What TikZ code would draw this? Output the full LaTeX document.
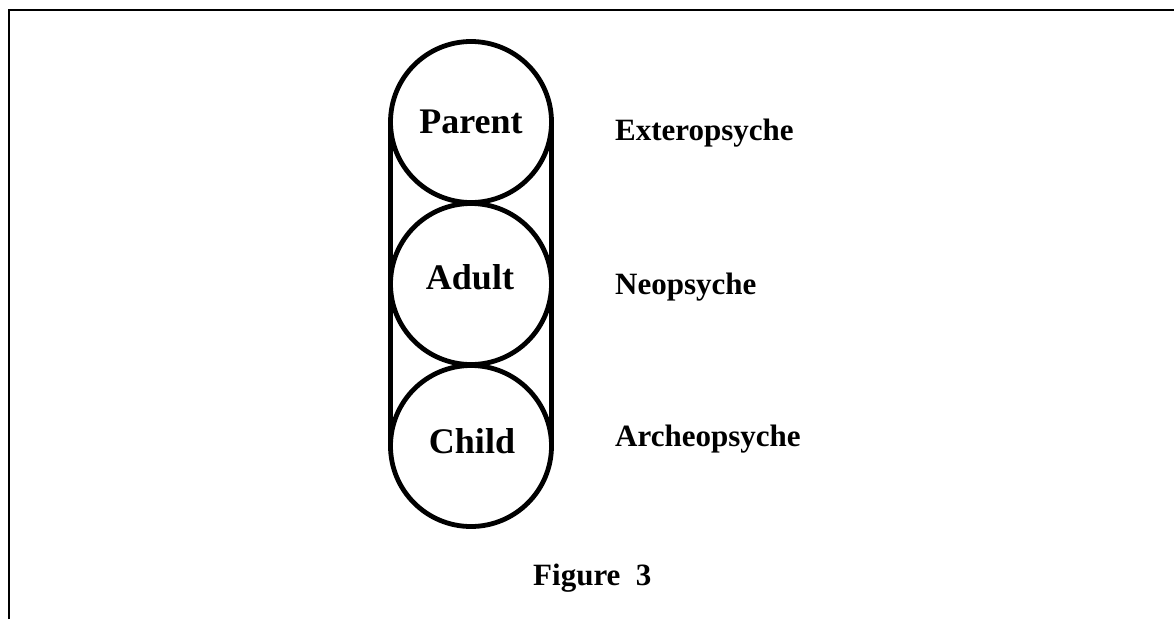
\documentclass[tikz,border=0pt]{standalone}
\usepackage{fontspec}
\setmainfont{Liberation Serif}
\begin{document}
\begin{tikzpicture}[x=1pt,y=-1pt,
  ego/.style={circle,draw,line width=4.8pt,outer sep=0pt,minimum size=161pt,inner sep=0pt},
  side/.style={line width=4.8pt},
  egotext/.style={anchor=base,font=\fontsize{36}{40}\selectfont\bfseries,inner sep=0pt},
  sidetext/.style={anchor=base west,font=\fontsize{31}{36}\selectfont\bfseries,inner sep=0pt},
  frame/.style={line width=2pt}]
\useasboundingbox (0,0) rectangle (1174,619);
% frame
\coordinate (fb) at (8.5,619);
\coordinate (ftl) at (8.5,9.5);
\coordinate (fr) at (1174,9.5);
\draw[frame] (fb) -- (ftl) -- (fr);
% circles
\node[ego] (parent) at (471,122) {};
\node[ego] (adult) at (471,284) {};
\node[ego] (child) at (471,446) {};
\draw[side] (parent.west) -- (child.west);
\draw[side] (parent.east) -- (child.east);
% circle texts
\node[egotext] (tparent) at (471,133) {Parent};
\node[egotext] (tadult) at (470,289) {Adult};
\node[egotext] (tchild) at (472,453) {Child};
% side labels
\node[sidetext] (ext) at (615,140) {Exteropsyche};
\node[sidetext] (neo) at (615,294) {Neopsyche};
\node[sidetext] (arc) at (615,446) {Archeopsyche};
% caption
\node[sidetext] (fig) at (533,585) {Figure\ \ 3};
\end{tikzpicture}
\end{document}
